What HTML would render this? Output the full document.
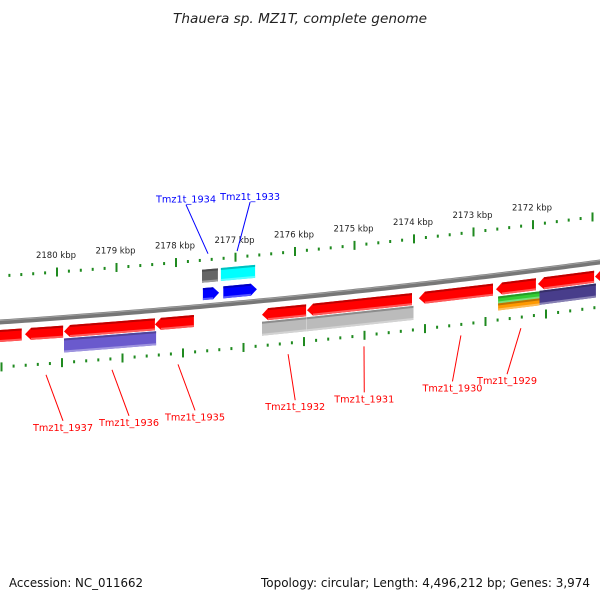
<!DOCTYPE html>
<html><head><meta charset="utf-8"><style>
html,body{margin:0;padding:0;background:#fff;width:600px;height:600px;overflow:hidden}
svg{display:block;font-family:"DejaVu Sans","Liberation Sans",sans-serif}
</style></head><body>
<svg id="map" width="600" height="600" viewBox="0 0 600 600">
<text x="300" y="23" text-anchor="middle" font-size="13" font-style="italic" fill="#222" textLength="254" lengthAdjust="spacingAndGlyphs">Thauera sp. MZ1T, complete genome</text>
<text x="9" y="587" font-size="12" fill="#111" textLength="134" lengthAdjust="spacingAndGlyphs">Accession: NC_011662</text>
<text x="590" y="587" text-anchor="end" font-size="12" fill="#111" textLength="329" lengthAdjust="spacingAndGlyphs">Topology: circular; Length: 4,496,212 bp; Genes: 3,974</text>
<g id="layer"></g>
</svg>
<script>
// ---- data ----
const tickKbp = [2181, 2180, 2179, 2178, 2177, 2176, 2175, 2174, 2173, 2172, 2171];
const tickLabels = ["", "2180 kbp","2179 kbp","2178 kbp","2177 kbp","2176 kbp","2175 kbp","2174 kbp","2173 kbp","2172 kbp",""];
const geneStart = [2181.2, 2180.575, 2179.925, 2178.41, 2176.625, 2175.875, 2174.01, 2172.725, 2172.025, 2171.075, 2179.925, 2176.625, 2175.875, 2172.69, 2172.69, 2172.0, 2177.61, 2177.27, 2177.625, 2177.31];
const geneEnd   = [2180.63, 2179.94, 2178.41, 2177.76, 2175.89, 2174.125, 2172.775, 2172.06, 2171.09, 2170.5, 2178.39, 2175.88, 2174.1, 2172.0, 2172.0, 2171.06, 2177.34, 2176.71, 2177.36, 2176.74];
const geneTrack = ["rev","rev","rev","rev","rev","rev","rev","rev","rev","rev","low","low","low","lowA","lowB","low","up","up","up2","up2"];
const geneColor = ["#ff0000","#ff0000","#ff0000","#ff0000","#ff0000","#ff0000","#ff0000","#ff0000","#ff0000","#ff0000","#6a5acd","#bbbbbb","#bbbbbb","#33cc33","#ff9900","#483d8b","#0000ff","#0000ff","#666666","#00ffff"];
const geneArrow = ["left","left","left","left","left","left","left","left","left","left","none","none","none","none","none","none","right","right","none","none"];
const labelNames = ["Tmz1t_1937","Tmz1t_1936","Tmz1t_1935","Tmz1t_1932","Tmz1t_1931","Tmz1t_1930","Tmz1t_1929","Tmz1t_1934","Tmz1t_1933"];
const labelKbp = [2180.225, 2179.125, 2178.025, 2176.19, 2174.925, 2173.31, 2172.31, 2177.525, 2177.04];
const labelColor = ["#ff0000","#ff0000","#ff0000","#ff0000","#ff0000","#ff0000","#ff0000","#0000ff","#0000ff"];

// ---- geometry ----
const NS = "http://www.w3.org/2000/svg";
const layer = document.getElementById('layer');
function by(x){ return 322 - 0.0667*x - 0.0000556*x*x; }
function xb(k){ return 59.5 + (2180 - k)*60; }
function xu(k){ return 57 + (2180 - k)*59.5; }
function xl(k){ return 62 + (2180 - k)*60.5; }
function mk(tag, attrs){ const e = document.createElementNS(NS, tag); for (const a in attrs) e.setAttribute(a, attrs[a]); layer.appendChild(e); return e; }

// backbone
(function(){
  let top = [], bot = [];
  for (let x = -5; x <= 605; x += 5){ top.push(x + "," + (by(x) - 2.5).toFixed(2)); bot.unshift(x + "," + (by(x) + 2.5).toFixed(2)); }
  const p = mk('polygon', {points: top.concat(bot).join(' '), fill: '#777'});
  
  
  let t2 = [];
  for (let x = -5; x <= 605; x += 5) t2.push(x + "," + (by(x) - 1.5).toFixed(2));
  mk('polyline', {points: t2.join(' '), fill: 'none', stroke: '#a0a0a0', 'stroke-width': 1});
})();

// tick rings
function ring(xf, off, name, labels){
  for (let i = 0; i < tickKbp.length; i++){
    for (let m = 0; m < 5; m++){
      const k = tickKbp[i] - m*0.2;
      const x = xf(k);
      if (x < -3 || x > 603) continue;
      const y = by(x) + off;
      if (m === 0){
        const r = mk('rect', {x: x - 1, y: y - 4.5, width: 2, height: 9, fill: '#1f8a1f'});
        
        
        if (labels && tickLabels[i]){
          const t = mk('text', {x: x - 1, y: y - 14, 'text-anchor': 'middle', 'font-size': 8.5, fill: '#222'});
          
          
          t.textContent = tickLabels[i];
        }
      } else {
        const r = mk('rect', {x: x - 1, y: y - 1.5, width: 2, height: 3, fill: '#1f8a1f'});
        
        
      }
    }
  }
}
ring(xu, -46, 'upper-ring', true);
ring(xl, 45, 'lower-ring', false);

// genes
const trackOff = {rev:[14,6], low:[28,7], lowA:[25,3.5], lowB:[32,3.5], up:[-12,6], up2:[-30,6.5]};
function shade(hex, f){
  const n = parseInt(hex.slice(1),16); let r=n>>16,g=(n>>8)&255,b=n&255;
  if (f<0){ r=Math.round(r*(1+f)); g=Math.round(g*(1+f)); b=Math.round(b*(1+f)); }
  else { r=Math.round(r+(255-r)*f); g=Math.round(g+(255-g)*f); b=Math.round(b+(255-b)*f); }
  return 'rgb('+r+','+g+','+b+')';
}
for (let i = 0; i < geneStart.length; i++){
  const x1 = xb(geneStart[i]), x2 = xb(geneEnd[i]);
  const [off, h] = trackOff[geneTrack[i]];
  const ah = 6;
  const pt = (x, d) => x.toFixed(2) + "," + (by(x) + off + d).toFixed(2);
  let pts;
  if (geneArrow[i] === 'left'){
    pts = [pt(x1, 0), pt(x1 + ah, -h), pt(x2, -h), pt(x2, h), pt(x1 + ah, h)];
  } else if (geneArrow[i] === 'right'){
    pts = [pt(x1, -h), pt(x2 - ah, -h), pt(x2, 0), pt(x2 - ah, h), pt(x1, h)];
  } else {
    pts = [pt(x1, -h), pt(x2, -h), pt(x2, h), pt(x1, h)];
  }
  const g = mk('polygon', {points: pts.join(' '), fill: geneColor[i]});
  
  
  const a = geneArrow[i] === 'left' ? x1 + ah : x1, b = geneArrow[i] === 'right' ? x2 - ah : x2;
  mk('polygon', {points: [pt(a, -h), pt(b, -h), pt(b, -h + 2), pt(a, -h + 2)].join(' '), fill: shade(geneColor[i], -0.25)});
  mk('polygon', {points: [pt(a, h - 2), pt(b, h - 2), pt(b, h), pt(a, h)].join(' '), fill: shade(geneColor[i], 0.35)});
}

// labels
for (let i = 0; i < labelNames.length; i++){
  const k = labelKbp[i];
  const up = labelColor[i] === '#0000ff';
  const x0 = xb(k);
  let sx, sy, ex, ey;
  if (up){
    sx = x0; sy = by(x0) - 52; ex = x0 + (i === 7 ? -22 : 13); ey = sy - 49;
  } else {
    sx = x0; sy = by(x0) + 56; ex = x0 + 17 - Math.max(0, x0 - 178) * 0.09; ey = sy + 46;
  }
  const l = mk('line', {x1: sx, y1: sy, x2: ex, y2: ey, stroke: labelColor[i], 'stroke-width': 1});
  
  
  const t = mk('text', {x: ex, y: up ? ey - 2 : ey + 10, 'text-anchor': 'middle', 'font-size': 10, fill: labelColor[i], textLength: 60, lengthAdjust: 'spacingAndGlyphs'});
  
  
  t.textContent = labelNames[i];
}
</script>
</body></html>
